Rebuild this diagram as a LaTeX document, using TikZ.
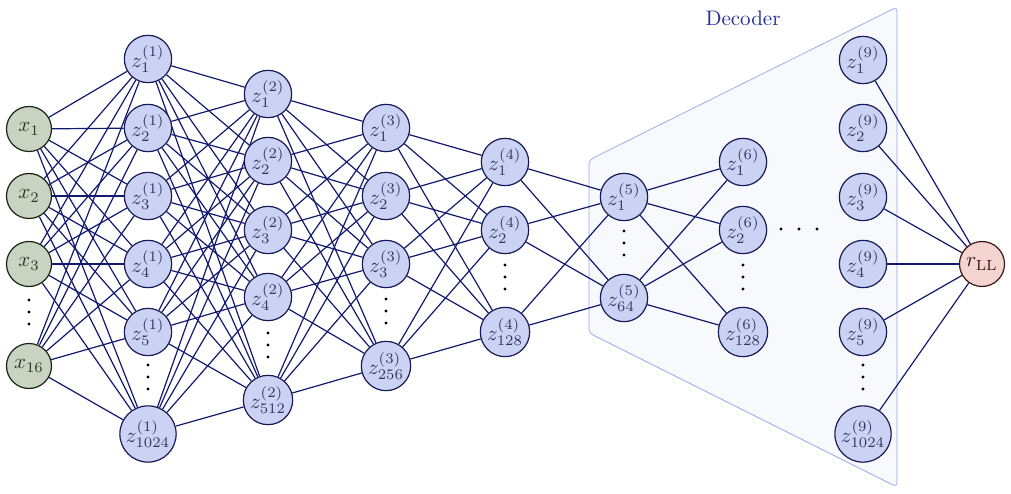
\documentclass[tikz,border=0pt]{standalone}
\usetikzlibrary{calc}
\definecolor{zfill}{RGB}{203,210,243}
\definecolor{zdraw}{RGB}{22,28,88}
\definecolor{xfill}{RGB}{200,211,194}
\definecolor{xdraw}{RGB}{22,36,20}
\definecolor{rfill}{RGB}{243,212,208}
\definecolor{rdraw}{RGB}{60,22,16}
\definecolor{edgecol}{RGB}{18,26,112}
\definecolor{decfill}{RGB}{248,249,252}
\definecolor{decdraw}{RGB}{150,165,235}
\definecolor{dectext}{RGB}{38,48,150}
\pgfdeclarelayer{bg}
\pgfdeclarelayer{edges}
\pgfsetlayers{bg,edges,main}
\newcommand{\nt}[1]{\scalebox{2.1}{#1}}
\tikzset{
  neuron/.style={circle, line width=1.2pt, inner sep=1.5pt, minimum size=46pt},
  zn/.style={neuron, fill=zfill, draw=zdraw, text=zdraw!75!gray},
  xn/.style={neuron, fill=xfill, draw=xdraw, text=xdraw!80!gray, minimum size=45pt},
  rn/.style={neuron, fill=rfill, draw=rdraw, text=rdraw, minimum size=45pt},
  edge/.style={draw=edgecol, line width=1.2pt},
}
\begin{document}
\begin{tikzpicture}[x=1pt,y=-1pt]
\useasboundingbox (0,0) rectangle (1011,494);
% decoder region
\begin{pgfonlayer}{bg}
\draw[draw=decdraw, fill=decfill, line width=0.7pt, rounded corners=4pt]
  (589,160) -- (897,7) -- (897,487) -- (589,333) -- cycle;
\end{pgfonlayer}
\node[text=dectext] (declabel) at (743,18) {\nt{Decoder}};
% layer 0
\foreach \y/\s [count=\i] in {129/1,196/2,264/3,366/16}
  \node[xn] (L0-\i) at (29,\y) {\nt{$x_{\s}$}};
% layer 1
\foreach \y/\s [count=\i] in {59/1,128/2,196/3,264/4,332/5,434/1024}
  \node[zn] (L1-\i) at (148,\y) {\nt{$z^{(1)}_{\s}$}};
% layer 2
\foreach \y/\s [count=\i] in {94/1,161/2,230/3,297/4,400/512}
  \node[zn] (L2-\i) at (268,\y) {\nt{$z^{(2)}_{\s}$}};
% layer 3
\foreach \y/\s [count=\i] in {128/1,196/2,264/3,366/256}
  \node[zn] (L3-\i) at (386,\y) {\nt{$z^{(3)}_{\s}$}};
% layer 4
\foreach \y/\s [count=\i] in {162/1,230/2,332/128}
  \node[zn] (L4-\i) at (505,\y) {\nt{$z^{(4)}_{\s}$}};
% layer 5
\foreach \y/\s [count=\i] in {197/1,298/64}
  \node[zn] (L5-\i) at (624,\y) {\nt{$z^{(5)}_{\s}$}};
% layer 6
\foreach \y/\s [count=\i] in {162/1,230/2,332/128}
  \node[zn] (L6-\i) at (743,\y) {\nt{$z^{(6)}_{\s}$}};
% layer 9
\foreach \y/\s [count=\i] in {60/1,128/2,197/3,264/4,332/5,434/1024}
  \node[zn] (L9-\i) at (863,\y) {\nt{$z^{(9)}_{\s}$}};
% output
\node[rn] (r) at (982,264) {\nt{$r_{\mathrm{LL}}$}};
% edges
\begin{pgfonlayer}{edges}
\foreach \i in {1,...,4} \foreach \j in {1,...,6} \draw[edge] (L0-\i) -- (L1-\j);
\foreach \i in {1,...,6} \foreach \j in {1,...,5} \draw[edge] (L1-\i) -- (L2-\j);
\foreach \i in {1,...,5} \foreach \j in {1,...,4} \draw[edge] (L2-\i) -- (L3-\j);
\foreach \i in {1,...,4} \foreach \j in {1,...,3} \draw[edge] (L3-\i) -- (L4-\j);
\foreach \i in {1,...,3} \foreach \j in {1,...,2} \draw[edge] (L4-\i) -- (L5-\j);
\foreach \i in {1,...,2} \foreach \j in {1,...,3} \draw[edge] (L5-\i) -- (L6-\j);
\foreach \i in {1,...,6} \draw[edge] (L9-\i) -- (r);
\end{pgfonlayer}
% vertical dots
\foreach \x/\y in {29/312, 148/377, 268/345, 386/311, 505/277, 624/243, 743/277, 863/377}
  \foreach \d in {-12,0,12} \fill (\x,\y+\d) circle (1.7pt);
% horizontal dots
\foreach \x in {781,799,817} \fill (\x,229) circle (1.7pt);
\end{tikzpicture}
\end{document}
